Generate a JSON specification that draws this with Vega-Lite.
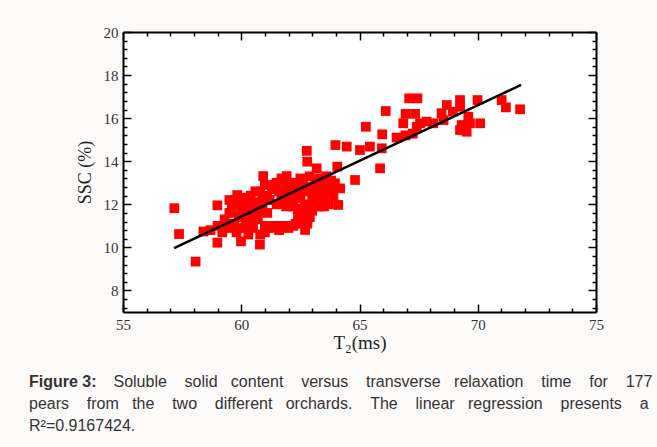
{
  "$schema": "https://vega.github.io/schema/vega-lite/v6.json",
  "autosize": {"type": "none"},
  "width": 473,
  "height": 280,
  "padding": {"left": 123, "top": 32, "right": 61, "bottom": 135},
  "background": "#fdfafa",
  "config": {
    "view": {"fill": "white", "stroke": null},
    "axis": {
      "grid": false,
      "domainColor": "black",
      "domainWidth": 2,
      "tickColor": "black",
      "tickWidth": 1.5,
      "labelFont": "Liberation Serif",
      "labelFontSize": 15,
      "labelColor": "#333333",
      "labelFlush": false,
      "labelOverlap": false,
      "titleFont": "Liberation Serif",
      "titleFontWeight": "normal",
      "titleColor": "#222222"
    }
  },
  "title": {
    "text": "Figure 3:",
    "subtitle": [
      "\u200b\u00a0\u00a0\u00a0\u00a0\u00a0\u00a0\u00a0\u00a0\u00a0\u00a0\u00a0\u00a0\u00a0\u00a0\u00a0\u00a0\u00a0\u00a0\u00a0Soluble\u00a0\u00a0\u00a0\u00a0solid\u00a0\u00a0\u00a0content\u00a0\u00a0\u00a0\u00a0versus\u00a0\u00a0\u00a0\u00a0transverse\u00a0\u00a0\u00a0relaxation\u00a0\u00a0\u00a0\u00a0time\u00a0\u00a0\u00a0\u00a0for\u00a0\u00a0\u00a0\u00a0177",
      "pears\u00a0\u00a0\u00a0\u00a0from\u00a0\u00a0\u00a0the\u00a0\u00a0\u00a0\u00a0two\u00a0\u00a0\u00a0\u00a0different\u00a0\u00a0\u00a0orchards.\u00a0\u00a0\u00a0\u00a0The\u00a0\u00a0\u00a0\u00a0linear\u00a0\u00a0\u00a0regression\u00a0\u00a0\u00a0\u00a0presents\u00a0\u00a0\u00a0\u00a0a",
      "R\u00b2=0.9167424."
    ],
    "orient": "bottom",
    "anchor": "start",
    "frame": "group",
    "dx": -94,
    "offset": 22,
    "font": "Liberation Sans",
    "fontSize": 16,
    "fontWeight": "bold",
    "color": "#333333",
    "subtitleFont": "Liberation Sans",
    "subtitleFontSize": 16,
    "subtitleColor": "#333333",
    "subtitleLineHeight": 22,
    "subtitlePadding": -16
  },
  "datasets": {
    "pears": [
      {"T2": 57.17, "SSC": 11.82}, {"T2": 57.37, "SSC": 10.62}, {"T2": 58.07, "SSC": 9.34},
      {"T2": 58.40, "SSC": 10.74}, {"T2": 58.99, "SSC": 11.95}, {"T2": 58.99, "SSC": 10.22},
      {"T2": 59.99, "SSC": 10.28}, {"T2": 60.79, "SSC": 10.13}, {"T2": 62.70, "SSC": 10.81},
      {"T2": 59.83, "SSC": 12.43}, {"T2": 60.93, "SSC": 13.31}, {"T2": 61.92, "SSC": 13.31},
      {"T2": 64.10, "SSC": 11.97}, {"T2": 58.70, "SSC": 10.80}, {"T2": 59.00, "SSC": 11.00},
      {"T2": 59.20, "SSC": 10.70},
      {"T2": 62.77, "SSC": 14.48}, {"T2": 62.79, "SSC": 13.98}, {"T2": 62.62, "SSC": 13.13},
      {"T2": 63.12, "SSC": 13.05}, {"T2": 63.19, "SSC": 13.67}, {"T2": 64.06, "SSC": 13.75},
      {"T2": 63.98, "SSC": 14.75}, {"T2": 64.46, "SSC": 14.68}, {"T2": 65.02, "SSC": 14.52},
      {"T2": 65.44, "SSC": 14.68}, {"T2": 65.94, "SSC": 14.60}, {"T2": 65.87, "SSC": 13.67},
      {"T2": 64.81, "SSC": 13.13}, {"T2": 64.18, "SSC": 12.74}, {"T2": 63.96, "SSC": 12.98},
      {"T2": 65.27, "SSC": 15.60}, {"T2": 65.96, "SSC": 15.25}, {"T2": 66.57, "SSC": 15.10},
      {"T2": 66.95, "SSC": 15.20}, {"T2": 67.25, "SSC": 15.28}, {"T2": 66.11, "SSC": 16.33},
      {"T2": 67.10, "SSC": 16.92}, {"T2": 67.45, "SSC": 16.92}, {"T2": 66.95, "SSC": 16.20},
      {"T2": 67.35, "SSC": 16.20}, {"T2": 66.85, "SSC": 15.76}, {"T2": 67.42, "SSC": 15.60},
      {"T2": 67.84, "SSC": 15.84}, {"T2": 67.56, "SSC": 15.76}, {"T2": 68.12, "SSC": 15.76},
      {"T2": 68.55, "SSC": 15.91}, {"T2": 68.47, "SSC": 16.23}, {"T2": 68.95, "SSC": 16.30},
      {"T2": 68.69, "SSC": 16.61}, {"T2": 69.25, "SSC": 16.84}, {"T2": 69.25, "SSC": 16.53},
      {"T2": 69.99, "SSC": 16.84}, {"T2": 69.60, "SSC": 16.07}, {"T2": 69.67, "SSC": 15.76},
      {"T2": 69.32, "SSC": 15.68}, {"T2": 70.10, "SSC": 15.76}, {"T2": 69.25, "SSC": 15.45},
      {"T2": 69.53, "SSC": 15.37}, {"T2": 71.01, "SSC": 16.84}, {"T2": 71.19, "SSC": 16.50},
      {"T2": 71.79, "SSC": 16.41},
      {"T2": 59.3, "SSC": 11.3}, {"T2": 59.4, "SSC": 10.9}, {"T2": 59.5, "SSC": 11.6},
      {"T2": 59.6, "SSC": 11.1}, {"T2": 59.7, "SSC": 12.0}, {"T2": 59.8, "SSC": 10.7},
      {"T2": 59.9, "SSC": 11.4}, {"T2": 60.0, "SSC": 11.8}, {"T2": 60.0, "SSC": 10.9},
      {"T2": 59.5, "SSC": 12.2}, {"T2": 60.2, "SSC": 11.2}, {"T2": 60.2, "SSC": 12.3},
      {"T2": 60.3, "SSC": 10.6}, {"T2": 60.4, "SSC": 11.6}, {"T2": 60.5, "SSC": 12.0},
      {"T2": 60.5, "SSC": 10.9}, {"T2": 60.6, "SSC": 12.6}, {"T2": 60.7, "SSC": 11.3},
      {"T2": 60.8, "SSC": 11.9}, {"T2": 60.8, "SSC": 10.6}, {"T2": 60.9, "SSC": 12.3},
      {"T2": 61.0, "SSC": 11.0}, {"T2": 61.0, "SSC": 12.9}, {"T2": 60.3, "SSC": 11.9},
      {"T2": 60.6, "SSC": 11.5}, {"T2": 61.1, "SSC": 11.6}, {"T2": 61.2, "SSC": 12.2},
      {"T2": 61.2, "SSC": 10.9}, {"T2": 61.3, "SSC": 12.7}, {"T2": 61.5, "SSC": 13.0},
      {"T2": 61.5, "SSC": 12.0}, {"T2": 61.6, "SSC": 10.8}, {"T2": 61.7, "SSC": 12.4},
      {"T2": 61.8, "SSC": 11.0}, {"T2": 61.9, "SSC": 12.8}, {"T2": 61.9, "SSC": 11.9},
      {"T2": 62.0, "SSC": 12.2}, {"T2": 62.0, "SSC": 10.9}, {"T2": 61.7, "SSC": 13.2},
      {"T2": 62.2, "SSC": 12.6}, {"T2": 62.3, "SSC": 11.1}, {"T2": 62.3, "SSC": 13.0},
      {"T2": 62.4, "SSC": 11.8}, {"T2": 62.5, "SSC": 12.3}, {"T2": 62.6, "SSC": 11.4},
      {"T2": 62.6, "SSC": 12.9}, {"T2": 62.7, "SSC": 12.0}, {"T2": 62.8, "SSC": 11.1},
      {"T2": 62.8, "SSC": 12.6}, {"T2": 62.9, "SSC": 13.3}, {"T2": 63.0, "SSC": 11.7},
      {"T2": 63.0, "SSC": 12.3}, {"T2": 62.2, "SSC": 11.9}, {"T2": 62.5, "SSC": 13.2},
      {"T2": 62.9, "SSC": 11.4}, {"T2": 63.2, "SSC": 12.5}, {"T2": 63.3, "SSC": 11.9},
      {"T2": 63.4, "SSC": 12.9}, {"T2": 63.5, "SSC": 12.2}, {"T2": 63.6, "SSC": 12.7},
      {"T2": 63.7, "SSC": 12.0}, {"T2": 63.8, "SSC": 13.1}, {"T2": 63.9, "SSC": 12.4},
      {"T2": 63.3, "SSC": 13.2},
      {"T2": 59.6, "SSC": 11.8}, {"T2": 59.9, "SSC": 12.1}, {"T2": 60.1, "SSC": 11.6},
      {"T2": 60.4, "SSC": 12.4}, {"T2": 60.7, "SSC": 12.1}, {"T2": 60.9, "SSC": 11.7},
      {"T2": 61.1, "SSC": 12.4}, {"T2": 61.4, "SSC": 12.9}, {"T2": 61.8, "SSC": 12.1},
      {"T2": 62.0, "SSC": 12.6}, {"T2": 62.1, "SSC": 13.0}, {"T2": 62.3, "SSC": 12.3},
      {"T2": 62.4, "SSC": 11.5}, {"T2": 62.7, "SSC": 12.8}, {"T2": 62.8, "SSC": 11.8},
      {"T2": 63.1, "SSC": 12.1}, {"T2": 63.2, "SSC": 12.9}, {"T2": 63.4, "SSC": 12.5},
      {"T2": 63.6, "SSC": 13.3}, {"T2": 61.0, "SSC": 10.7}, {"T2": 61.4, "SSC": 11.0},
      {"T2": 62.2, "SSC": 11.0}, {"T2": 62.6, "SSC": 11.2}, {"T2": 60.2, "SSC": 10.9},
      {"T2": 59.7, "SSC": 11.0}, {"T2": 60.5, "SSC": 11.3}, {"T2": 63.0, "SSC": 12.7},
      {"T2": 63.5, "SSC": 11.9}, {"T2": 63.8, "SSC": 12.6}, {"T2": 62.5, "SSC": 12.6},
      {"T2": 61.6, "SSC": 12.6}, {"T2": 60.8, "SSC": 12.6}
    ],
    "fit": [
      {"T2": 57.16, "SSC": 9.97},
      {"T2": 71.83, "SSC": 17.54}
    ]
  },
  "layer": [
    {
      "data": {"name": "pears"},
      "mark": {"type": "square", "size": 95, "color": "#ff0000", "opacity": 1},
      "encoding": {
        "x": {
          "field": "T2", "type": "quantitative",
          "scale": {"domain": [55, 75], "nice": false, "zero": false},
          "axis": {"orient": "bottom", "values": [55, 60, 65, 70, 75], "tickSize": -8, "labelPadding": 13, "title": "T\u2082(ms)", "titleFontSize": 19, "titlePadding": 1}
        },
        "y": {
          "field": "SSC", "type": "quantitative",
          "scale": {"domain": [7, 20], "nice": false, "zero": false},
          "axis": {"orient": "left", "values": [8, 10, 12, 14, 16, 18, 20], "tickSize": -8, "labelPadding": 13, "title": "SSC (%)", "titleFontSize": 18, "titlePadding": 9}
        }
      }
    },
    {
      "data": {"name": "fit"},
      "mark": {"type": "line", "color": "black", "strokeWidth": 2.5},
      "encoding": {
        "x": {
          "field": "T2", "type": "quantitative",
          "scale": {"domain": [55, 75], "nice": false, "zero": false},
          "axis": {"orient": "bottom", "values": [56, 57, 58, 59, 61, 62, 63, 64, 66, 67, 68, 69, 71, 72, 73, 74], "tickSize": -4, "labels": false, "domain": false, "title": null}
        },
        "y": {
          "field": "SSC", "type": "quantitative",
          "scale": {"domain": [7, 20], "nice": false, "zero": false},
          "axis": {"orient": "left", "values": [7.2, 7.6, 8.4, 8.8, 9.2, 9.6, 10.4, 10.8, 11.2, 11.6, 12.4, 12.8, 13.2, 13.6, 14.4, 14.8, 15.2, 15.6, 16.4, 16.8, 17.2, 17.6, 18.4, 18.8, 19.2, 19.6], "tickSize": -4, "labels": false, "domain": false, "title": null}
        }
      }
    },
    {
      "data": {"name": "fit"},
      "mark": {"type": "point", "opacity": 0},
      "encoding": {
        "x": {
          "field": "T2", "type": "quantitative",
          "scale": {"domain": [55, 75], "nice": false, "zero": false},
          "axis": {"orient": "top", "values": [55, 60, 65, 70, 75], "tickSize": -8, "labels": false, "title": null}
        },
        "y": {
          "field": "SSC", "type": "quantitative",
          "scale": {"domain": [7, 20], "nice": false, "zero": false},
          "axis": {"orient": "right", "values": [8, 10, 12, 14, 16, 18, 20], "tickSize": -8, "labels": false, "title": null}
        }
      }
    },
    {
      "data": {"name": "fit"},
      "mark": {"type": "point", "opacity": 0},
      "encoding": {
        "x": {
          "field": "T2", "type": "quantitative",
          "scale": {"domain": [55, 75], "nice": false, "zero": false},
          "axis": {"orient": "top", "values": [56, 57, 58, 59, 61, 62, 63, 64, 66, 67, 68, 69, 71, 72, 73, 74], "tickSize": -4, "labels": false, "domain": false, "title": null}
        },
        "y": {
          "field": "SSC", "type": "quantitative",
          "scale": {"domain": [7, 20], "nice": false, "zero": false},
          "axis": {"orient": "right", "values": [7.2, 7.6, 8.4, 8.8, 9.2, 9.6, 10.4, 10.8, 11.2, 11.6, 12.4, 12.8, 13.2, 13.6, 14.4, 14.8, 15.2, 15.6, 16.4, 16.8, 17.2, 17.6, 18.4, 18.8, 19.2, 19.6], "tickSize": -4, "labels": false, "domain": false, "title": null}
        }
      }
    }
  ],
  "resolve": {"axis": {"x": "independent", "y": "independent"}}
}
